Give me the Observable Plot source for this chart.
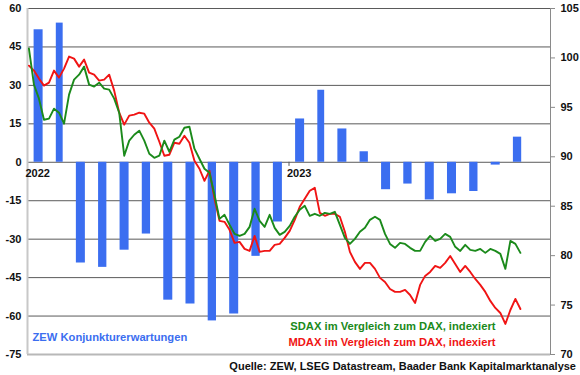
<!DOCTYPE html>
<html><head><meta charset="utf-8">
<script src="https://cdn.jsdelivr.net/npm/d3@7"></script>
<script src="https://cdn.jsdelivr.net/npm/@observablehq/plot@0.6"></script>
<style>
body{margin:0;background:#fff;font-family:"Liberation Sans",Arial,sans-serif;}
#chart{width:580px;height:375px;position:relative;overflow:hidden;}
#plot{position:absolute;left:0;top:0;}
#caption{position:absolute;right:4px;top:360px;font-size:11px;line-height:13px;font-weight:bold;color:#111;white-space:nowrap;}
</style></head><body>
<div id="chart"><div id="plot"></div><div id="caption"></div></div>
<script>
// ZEW Konjunkturerwartungen (monthly)
const zewMonths = ["2022-01","2022-02","2022-03","2022-04","2022-05","2022-06","2022-07","2022-08","2022-09","2022-10","2022-11","2022-12",
  "2023-01","2023-02","2023-03","2023-04","2023-05","2023-06","2023-07","2023-08","2023-09","2023-10","2023-11"];
const zewValues = [51.7,54.3,-39.3,-41.0,-34.3,-28.0,-53.8,-55.3,-61.9,-59.2,-36.7,-23.3,
  16.9,28.1,13.0,4.1,-10.7,-8.5,-14.7,-12.3,-11.4,-1.1,9.8];

// weekly relative performance vs DAX, indexed (right axis)
const weekStart = "2022-01-03";
const sdax = [100.95,97.30,95.88,93.75,93.86,94.87,94.46,93.35,96.29,97.81,
  98.31,99.12,97.30,97.10,97.50,96.89,96.79,95.88,94.46,90.11,
  91.63,92.23,92.64,91.63,90.31,89.90,90.11,91.63,90.51,91.73,
  92.03,92.94,93.04,90.82,89.80,88.79,88.38,86.16,83.72,84.13,
  83.12,82.20,82.00,82.20,82.91,84.74,83.52,82.91,84.13,82.81,
  82.10,82.41,83.01,83.93,84.64,85.04,84.03,84.23,84.03,84.33,
  84.23,84.43,83.12,81.80,81.19,81.70,82.41,82.81,83.62,83.93,
  83.62,82.20,81.19,80.79,81.29,81.19,80.79,80.48,80.48,81.39,
  82.00,81.49,81.70,82.20,81.90,80.89,80.48,81.09,80.58,80.48,
  80.68,80.28,80.68,80.48,80.18,78.66,81.49,81.19,80.28];
const mdax = [99.22,98.72,97.91,97.20,97.50,98.72,98.01,98.92,100.14,99.93,
  99.12,99.83,98.52,98.31,97.71,97.81,98.31,96.69,94.46,93.25,
  94.16,94.26,94.46,94.36,93.45,92.84,91.52,90.11,90.21,91.42,
  91.32,92.13,91.42,89.60,88.79,87.57,88.59,85.75,83.52,83.42,
  82.61,81.29,81.39,80.68,80.48,82.00,80.38,80.48,80.48,81.09,
  81.19,81.80,82.51,83.62,84.94,85.75,86.56,86.86,84.33,84.03,
  84.23,84.23,83.93,82.41,80.38,79.37,78.66,79.27,79.27,78.66,
  77.75,77.34,76.63,76.33,76.33,76.53,76.02,75.21,77.04,77.95,
  78.35,78.96,78.76,79.27,79.97,79.16,78.35,78.96,78.35,77.64,
  77.04,76.33,75.42,74.71,74.20,73.09,74.50,75.62,74.60];

const leftTicks = [-75,-60,-45,-30,-15,0,15,30,45,60];
const rightTicks = [70,75,80,85,90,95,100,105];
const yearTicks = ["2022-01-01","2023-01-01"];
const xRange = ["2022-01-01","2024-01-01"];
const zewLabel = "ZEW Konjunkturerwartungen";
const sdaxLabel = "SDAX im Vergleich zum DAX, indexiert";
const mdaxLabel = "MDAX im Vergleich zum DAX, indexiert";
const caption = "Quelle: ZEW, LSEG Datastream, Baader Bank Kapitalmarktanalyse";

const BLUE = "#3b6ef0", GREEN = "#1b8a1b", RED = "#f01414";

const xStart = new Date(xRange[0]), xEnd = new Date(xRange[1]);
const leftDomain = [leftTicks[0], leftTicks[leftTicks.length-1]];
const rightDomain = [rightTicks[0], rightTicks[rightTicks.length-1]];
const toLeft = d3.scaleLinear().domain(rightDomain).range(leftDomain);

const zew = zewMonths.map((m, i) => ({date: new Date(m + "-01"), value: zewValues[i]}));
const start = new Date(weekStart);
const sdaxData = sdax.map((v, i) => ({date: d3.utcDay.offset(start, 7 * i), value: v}));
const mdaxData = mdax.map((v, i) => ({date: d3.utcDay.offset(start, 7 * i), value: v}));

const chart = Plot.plot({
  width: 580,
  height: 375,
  marginTop: 8,
  marginBottom: 21,
  marginLeft: 27,
  marginRight: 30,
  style: {fontFamily: "'Liberation Sans', Arial, sans-serif", fontSize: "11px", fontWeight: "bold", color: "#111", background: "transparent"},
  x: {type: "utc", domain: [xStart, xEnd], axis: null},
  y: {domain: leftDomain, axis: null},
  marks: [
    Plot.ruleY(leftTicks.slice(1), {stroke: "#5a5a5a", strokeWidth: 1}),
    Plot.rect(zew, {x1: "date", x2: d => d3.utcMonth.offset(d.date, 1), y1: 0, y2: "value", insetLeft: 6.6, insetRight: 6.6, fill: BLUE}),
    Plot.ruleY([leftTicks[0]], {stroke: "#b8b8b8", strokeWidth: 2}),
    Plot.ruleX([xStart], {stroke: "#c8c8c8", strokeWidth: 2}),
    Plot.ruleX([xEnd], {stroke: "#8a8a8a", strokeWidth: 1}),
    Plot.ruleY(rightTicks, {y: d => toLeft(d), x1: () => xEnd, x2: () => d3.utcDay.offset(xEnd, 7), stroke: "#8a8a8a"}),
    Plot.ruleX(yearTicks.slice(1), {x: d => new Date(d), y1: 0, y2: -1.6, stroke: "#5a5a5a"}),
    Plot.line(mdaxData, {x: "date", y: d => toLeft(d.value), stroke: RED, strokeWidth: 1.9}),
    Plot.line(sdaxData, {x: "date", y: d => toLeft(d.value), stroke: GREEN, strokeWidth: 1.9}),
    Plot.text(leftTicks, {x: () => xStart, y: d => d, text: d => String(d), textAnchor: "end", dx: -6, fill: "#111"}),
    Plot.text(rightTicks, {x: () => xEnd, y: d => toLeft(d), text: d => String(d), textAnchor: "start", dx: 10, fill: "#111"}),
    Plot.text(yearTicks, {x: d => new Date(d), y: () => 0, text: d => d.slice(0, 4), textAnchor: "start", dx: -2, dy: 11, fill: "#111"}),
    Plot.text([zewLabel], {frameAnchor: "bottom-left", text: d => d, textAnchor: "start", dx: 5, dy: -14, fill: BLUE, fontSize: 11.2}),
    Plot.text([sdaxLabel], {frameAnchor: "bottom-right", text: d => d, textAnchor: "end", dx: -55, dy: -25, fill: GREEN, fontSize: 11.2}),
    Plot.text([mdaxLabel], {frameAnchor: "bottom-right", text: d => d, textAnchor: "end", dx: -55, dy: -9, fill: RED, fontSize: 11.2})
  ]
});
document.getElementById("plot").appendChild(chart);
document.getElementById("caption").textContent = caption;
</script>
</body></html>
